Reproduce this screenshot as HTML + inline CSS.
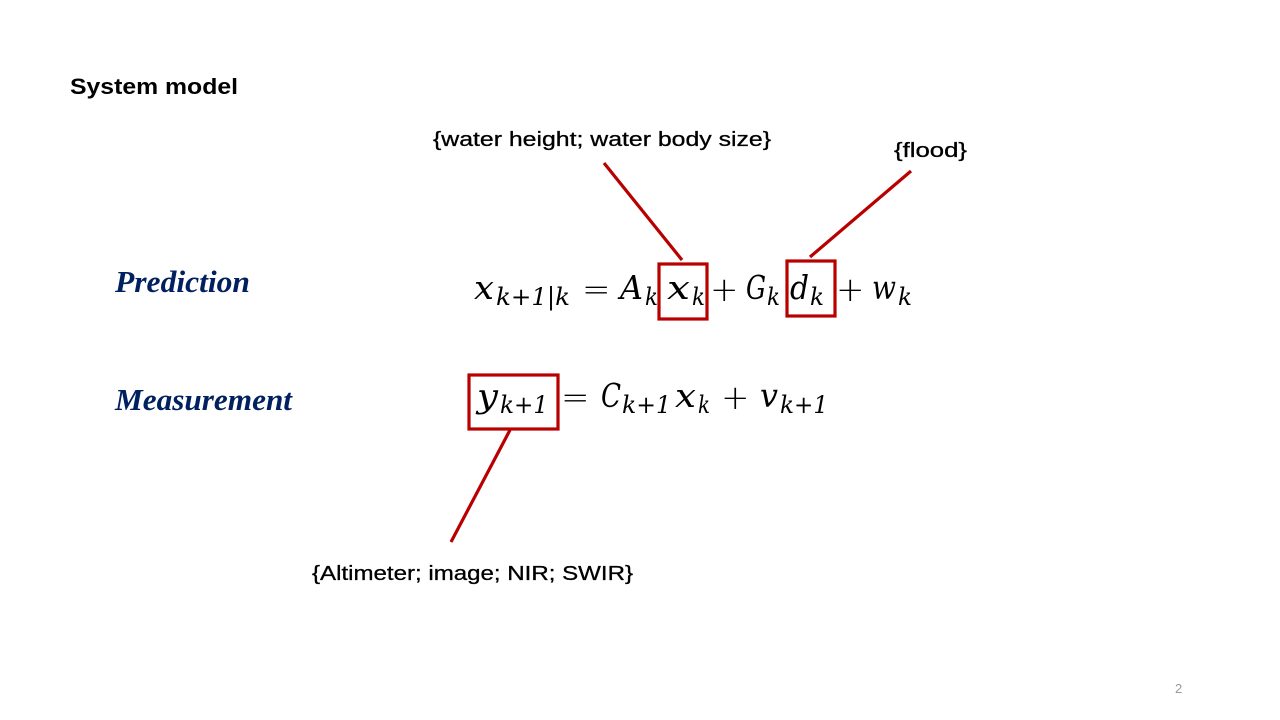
<!DOCTYPE html>
<html><head><meta charset="utf-8"><style>
html,body{margin:0;padding:0;background:#fff;width:1280px;height:720px;overflow:hidden}
svg{display:block}
.lab{font-family:"Liberation Sans",sans-serif;font-size:20px;fill:#000;stroke:#000;stroke-width:0.3}
.m{font-family:"DejaVu Serif",serif;font-style:italic;font-size:33px;fill:#000}
.s{font-family:"DejaVu Serif",serif;font-style:italic;font-size:24px;fill:#000}
.op{font-family:"DejaVu Sans",sans-serif;font-size:34px;fill:#000;font-weight:300}
.h{font-family:"Liberation Serif",serif;font-style:italic;font-weight:bold;font-size:31px;fill:#002060}
</style></head><body>
<svg width="1280" height="720" viewBox="0 0 1280 720">
<text x="70" y="94" font-family="Liberation Sans,sans-serif" font-weight="bold" font-size="22" textLength="168" lengthAdjust="spacingAndGlyphs">System model</text>
<text class="lab" x="433" y="146" textLength="338" lengthAdjust="spacingAndGlyphs">{water height; water body size}</text>
<text class="lab" x="894" y="157" textLength="73" lengthAdjust="spacingAndGlyphs">{flood}</text>
<text class="lab" x="312" y="580" textLength="321" lengthAdjust="spacingAndGlyphs">{Altimeter; image; NIR; SWIR}</text>
<text class="h" x="115" y="292" textLength="135" lengthAdjust="spacingAndGlyphs">Prediction</text>
<text class="h" x="115" y="410" textLength="177" lengthAdjust="spacingAndGlyphs">Measurement</text>
<text x="1175" y="693" font-family="Liberation Sans,sans-serif" font-size="13" fill="#999">2</text>

<!-- line 1 -->
<text class="m" x="474" y="299" textLength="20" lengthAdjust="spacingAndGlyphs">x</text>
<text class="s" x="496" y="305" textLength="74" lengthAdjust="spacingAndGlyphs">k+1|k</text>
<text class="op" x="582" y="301">=</text>
<text class="m" x="620" y="299" textLength="23" lengthAdjust="spacingAndGlyphs">A</text>
<text class="s" x="645" y="305" textLength="13" lengthAdjust="spacingAndGlyphs">k</text>
<text class="m" x="667" y="299" textLength="23" lengthAdjust="spacingAndGlyphs">x</text>
<text class="s" x="692" y="305" textLength="13" lengthAdjust="spacingAndGlyphs">k</text>
<text class="op" x="710" y="301">+</text>
<text class="m" x="746" y="299" textLength="20" lengthAdjust="spacingAndGlyphs">G</text>
<text class="s" x="767" y="305" textLength="13" lengthAdjust="spacingAndGlyphs">k</text>
<text class="m" x="790" y="299" textLength="19" lengthAdjust="spacingAndGlyphs">d</text>
<text class="s" x="810" y="305" textLength="14" lengthAdjust="spacingAndGlyphs">k</text>
<text class="op" x="836" y="301">+</text>
<text class="m" x="872" y="299" textLength="24" lengthAdjust="spacingAndGlyphs">w</text>
<text class="s" x="898" y="305" textLength="14" lengthAdjust="spacingAndGlyphs">k</text>

<!-- line 2 -->
<text class="m" x="477" y="407" textLength="21" lengthAdjust="spacingAndGlyphs">y</text>
<text class="s" x="500" y="413" textLength="48" lengthAdjust="spacingAndGlyphs">k+1</text>
<text class="op" x="561" y="409">=</text>
<text class="m" x="601" y="407" textLength="20" lengthAdjust="spacingAndGlyphs">C</text>
<text class="s" x="622" y="413" textLength="49" lengthAdjust="spacingAndGlyphs">k+1</text>
<text class="m" x="675" y="407" textLength="21" lengthAdjust="spacingAndGlyphs">x</text>
<text class="s" x="698" y="413" textLength="12" lengthAdjust="spacingAndGlyphs">k</text>
<text class="op" x="721" y="409">+</text>
<text class="m" x="760" y="407" textLength="18" lengthAdjust="spacingAndGlyphs">v</text>
<text class="s" x="780" y="413" textLength="48" lengthAdjust="spacingAndGlyphs">k+1</text>

<g fill="none" stroke="#b80000" stroke-width="3.2">
<rect x="659" y="264" width="48" height="55"/>
<rect x="787" y="261" width="48" height="55"/>
<rect x="469" y="375" width="89" height="54"/>
<line x1="604" y1="163" x2="682" y2="260"/>
<line x1="911" y1="171" x2="810" y2="257"/>
<line x1="510" y1="430" x2="451" y2="542"/>
</g>
</svg>
</body></html>
